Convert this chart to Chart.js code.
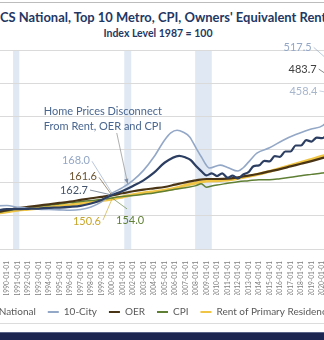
<!DOCTYPE html>
<html>
<head>
<meta charset="utf-8">
<script src="https://cdn.jsdelivr.net/npm/chart.js@4.4.0/dist/chart.umd.min.js"></script>
<style>
  html, body { margin: 0; padding: 0; background: #fff; }
  body { width: 324px; height: 340px; overflow: hidden; position: relative; font-family: Lato, "Open Sans", sans-serif; }
  #topRule { position: absolute; left: 0; top: 2px; width: 324px; height: 1px; background: #bcbcbc; }
  #title { position: absolute; left: 0; top: 10px; white-space: nowrap; font-weight: bold; font-size: 12.95px; line-height: 15px; color: #1f3864; }
  #subtitle { position: absolute; left: 0; top: 27px; width: 316px; text-align: center; font-weight: bold; font-size: 10.5px; line-height: 13px; color: #1f3864; }
  #wrap { position: absolute; left: -44px; top: 0; width: 480px; height: 327px; }
  #footRule { position: absolute; left: 0; top: 323px; width: 324px; height: 1px; background: #dcdcdc; }
  #footBar { position: absolute; left: 0; top: 332px; width: 324px; height: 8px; background: #1c2650; border-top: 1px solid #5a6488; }
</style>
</head>
<body>
<div id="topRule"></div>
<div id="title">CS National, Top 10 Metro, CPI, Owners' Equivalent Rent</div>
<div id="subtitle">Index Level 1987 = 100</div>
<div id="wrap"><canvas id="chart"></canvas></div>
<div id="footRule"></div>
<div id="footBar"></div>
<script>
// index levels, 1987 = 100
const nationalYears = [1987,1988,1989,1990,1991,1992,1993,1994,1995,1996,1997,1998,1999,2000,2001,2002,2003,2004,2005,2006.4,2007,2007.5,2008,2008.5,2009,2009.5,2010,2010.5,2011,2011.5,2012,2012.5,2013,2013.5,2014,2014.5,2015,2015.5,2016,2016.5,2017,2017.5,2018,2018.5,2019,2019.5,2020,2020.5,2021,2021.5,2022,2022.45,2023];
const nationalValues = [100,107,115,120,120,121,122,124,125,127,130,137,148,162.7,175,190,207,230,260,281,276,268,250,235,222,228,220,228,215,221,213,225,232,250,252,266,264,280,278,294,294,312,312,328,324,336,334,346,370,420,455,483.7,465];

const cityYears = [1987,1988,1989,1990,1991,1992,1993,1994,1995,1996,1997,1998,1999,2000,2001,2002,2003,2004,2005,2005.6,2006.2,2006.8,2007.4,2008,2008.5,2009.3,2010.3,2011,2012,2012.5,2013,2013.8,2015,2016.3,2017.5,2018.9,2020.1,2021,2021.5,2022.45,2023];
const cityValues = [100,118,130,131,126,123,120,119,118,117,119,127,142,168.0,185,207,237,278,328,350,358,352,338,305,278,244,253,246,235,245,262,289,305,328,345,361,373,405,460,517.5,458.4];

const annualYears = [1987,1988,1989,1990,1991,1992,1993,1994,1995,1996,1997,1998,1999,2000,2001,2002,2003,2004,2005,2006,2007,2008,2009,2010,2011,2012,2013,2014,2015,2016,2017,2018,2019,2020,2021,2022,2022.45];
const oerValues = [100,105,111,117,123,127,131,135,139,143,148,153,157,161.6,168,174,179,183,187,194,201,207,211,211,212,216,221,227,234,241,249,257,265,274,280,290,298];
const rentValues = [100,104,108,112,117,120,123,126,130,133,137,141,146,150.6,157,164,169,173,177,183,192,199,205,206,208,213,219,226,234,243,252,261,270,280,285,295,305];

const cpiYears = [1987,1988,1989,1990,1991,1992,1993,1994,1995,1996,1997,1998,1999,2000,2001,2002,2003,2004,2005,2006,2007,2008,2008.5,2009,2009.5,2010,2011,2012,2013,2014,2015,2016,2017,2018,2019,2020,2021,2022,2022.45];
const cpiValues = [100,104,109,115,121,125,129,132,136,140,143,146,149,154.0,158,161,165,169,174,180,185,191,197,186,190,193,198,203,206,209,209,212,216,221,225,229,236,255,265];

const seriesNames = ["CS National", "10-City", "OER", "CPI", "Rent of Primary Residence"];
const yTicks = [0, 100, 200, 300, 400, 500, 600];
const firstYear = 1987, lastYear = 2023.2;

// NBER recessions as decimal years
const recessions = [[1990.58, 1991.17], [2001.17, 2001.83], [2007.92, 2009.5]];

const colors = {
  national: "#2c3e62",
  city: "#93a7c6",
  oer: "#4a3416",
  cpi: "#5f7f35",
  rent: "#f0c444"
};

const pts = (xs, ys) => xs.map((x, i) => ({ x, y: ys[i] }));

function valueAt(xs, ys, yr) {
  for (let i = 1; i < xs.length; i++) {
    if (yr <= xs[i]) {
      const t = (yr - xs[i - 1]) / (xs[i] - xs[i - 1]);
      return ys[i - 1] + t * (ys[i] - ys[i - 1]);
    }
  }
  return ys[ys.length - 1];
}

const at2000 = (xs, ys) => ys[xs.indexOf(2000)];

// value callouts: text offset (tx,ty) and leader start (lx,ly) relative to the point
const callouts = [
  { year: 2000, value: at2000(cityYears, cityValues), color: "#93a7c6", tx: -22, ty: -33, align: "right", lx: -20, ly: -32 },
  { year: 2000, value: at2000(annualYears, oerValues), color: "#6b5330", tx: -15, ty: -19, align: "right", lx: -13, ly: -18 },
  { year: 2000, value: at2000(nationalYears, nationalValues), color: "#44546a", tx: -24, ty: -5, align: "right", lx: -22, ly: -5 },
  { year: 2000, value: at2000(annualYears, rentValues), color: "#c8a62c", tx: -11, ty: 22, align: "right", lx: -9, ly: 21 },
  { year: 2000, value: at2000(cpiYears, cpiValues), color: "#5f7f35", tx: 4, ty: 23, align: "left", lx: 15, ly: 11 },
  { year: 2022.45, value: 517.5, color: "#93a7c6", tx: -36, ty: -30, align: "right", lx: -34, ly: -30 },
  { year: 2022.45, value: 483.7, color: "#404040", tx: -31, ty: -19.5, align: "right", lx: -29, ly: -19.5 },
  { year: 2023, value: 458.4, color: "#a8b6cc", tx: -36, ty: -6, align: "right", lx: -34, ly: -6 }
];

const noteLines = ["Home Prices Disconnect", "From Rent, OER and CPI"];
const noteYear = 2001.5;

const backdrop = {
  id: "backdrop",
  beforeDraw(chart) {
    const { ctx, chartArea: a, scales: { x } } = chart;
    ctx.save();
    ctx.fillStyle = "#dfe8f3";
    recessions.forEach(([s, e]) => {
      const x0 = x.getPixelForValue(s), x1 = x.getPixelForValue(e);
      ctx.fillRect(x0, a.top, x1 - x0, a.bottom - a.top);
    });
    ctx.restore();
  }
};

const labels = {
  id: "labels",
  afterDatasetsDraw(chart) {
    const { ctx, scales: { x, y } } = chart;
    ctx.save();
    ctx.font = "11px Lato";
    ctx.textBaseline = "middle";
    callouts.forEach(c => {
      const px = x.getPixelForValue(c.year), py = y.getPixelForValue(c.value);
      ctx.strokeStyle = c.color;
      ctx.globalAlpha = 0.8;
      ctx.lineWidth = 0.8;
      ctx.beginPath();
      ctx.moveTo(px + c.lx, py + c.ly);
      ctx.lineTo(px, py);
      ctx.stroke();
      ctx.globalAlpha = 1;
      ctx.fillStyle = c.color;
      ctx.textAlign = c.align;
      ctx.fillText(c.value.toFixed(1), px + c.tx, py + c.ty);
    });

    // note with arrow onto the 10-City line
    const nx = x.getPixelForValue(noteYear), ny = y.getPixelForValue(valueAt(cityYears, cityValues, noteYear));
    ctx.strokeStyle = "#9a9a9a";
    ctx.lineWidth = 0.8;
    ctx.beginPath();
    ctx.moveTo(nx - 11, ny - 51);
    ctx.lineTo(nx, ny);
    ctx.stroke();
    ctx.fillStyle = "#7f8fa8";
    ctx.beginPath();
    ctx.moveTo(nx, ny);
    ctx.lineTo(nx - 3.5, ny - 4.5);
    ctx.lineTo(nx + 0.5, ny - 5.5);
    ctx.closePath();
    ctx.fill();
    ctx.fillStyle = "#4a6790";
    ctx.textAlign = "left";
    ctx.fillText(noteLines[0], nx - 84, ny - 73);
    ctx.fillText(noteLines[1], nx - 84, ny - 58);
    ctx.restore();
  }
};

const line = (label, data, color, width) => ({
  label, data,
  borderColor: color,
  backgroundColor: color,
  borderWidth: width,
  pointRadius: 0,
  cubicInterpolationMode: "monotone"
});

new Chart(document.getElementById("chart"), {
  type: "line",
  data: {
    datasets: [
      line(seriesNames[0], pts(nationalYears, nationalValues), colors.national, 2.2),
      line(seriesNames[1], pts(cityYears, cityValues), colors.city, 1.6),
      line(seriesNames[2], pts(annualYears, oerValues), colors.oer, 2.2),
      line(seriesNames[3], pts(cpiYears, cpiValues), colors.cpi, 1.5),
      line(seriesNames[4], pts(annualYears, rentValues), colors.rent, 3)
    ]
  },
  options: {
    responsive: true,
    maintainAspectRatio: false,
    animation: false,
    layout: { padding: { left: 0, right: 0, top: 50, bottom: 0 } },
    plugins: {
      tooltip: { enabled: false },
      legend: {
        position: "bottom",
        align: "start",
        labels: {
          boxWidth: 11,
          boxHeight: 2,
          padding: 12,
          color: "#595959",
          font: { family: "Lato", size: 10 },
          generateLabels(chart) {
            const items = Chart.defaults.plugins.legend.labels.generateLabels(chart);
            items.forEach(i => { i.fillStyle = i.strokeStyle; i.lineWidth = 0; });
            return items;
          }
        }
      }
    },
    scales: {
      x: {
        type: "linear",
        min: firstYear,
        max: lastYear,
        afterFit: s => { s.height = 46; },
        grid: { display: false },
        border: { display: false },
        ticks: {
          stepSize: 1,
          includeBounds: false,
          autoSkip: false,
          minRotation: 90,
          maxRotation: 90,
          padding: 4,
          color: "#7f7f7f",
          font: { family: "Lato", size: 6.6 },
          callback: v => Number.isInteger(v) ? v + "-01-01" : ""
        }
      },
      y: {
        min: yTicks[0],
        max: yTicks[yTicks.length - 1],
        afterBuildTicks: s => { s.ticks = yTicks.map(v => ({ value: v })); },
        afterFit: s => { s.width = 19.5; },
        grid: { color: "#dadada", drawTicks: false },
        border: { display: false },
        ticks: { display: false }
      },
      // empty axis that holds room for the end-value labels
      side: {
        position: "right",
        afterFit: s => { s.width = 80.4; },
        grid: { display: false },
        border: { display: false },
        ticks: { display: false }
      }
    }
  },
  plugins: [backdrop, labels]
});
</script>
</body>
</html>
